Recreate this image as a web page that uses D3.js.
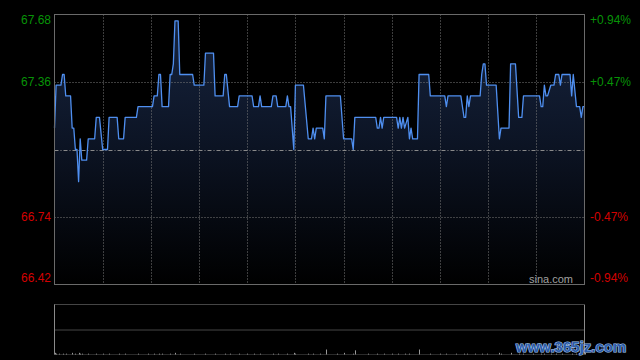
<!DOCTYPE html>
<html><head><meta charset="utf-8">
<script src="https://cdn.jsdelivr.net/npm/d3@7"></script>
<style>html,body{margin:0;padding:0;background:#000;overflow:hidden}svg{display:block}</style>
</head><body>
<svg id="c" width="640" height="360"></svg>
<script>
// ---- data ----
const prevClose = 67.05;
const priceMinutes = [0,1,4,5,6,7,10,11,12,13,14,15,16,17,20,21,25,26,28,30,33,34,39,40,43,44,51,52,61,62,64,65,66,67,71,72,73,74,75,77,78,86,87,93,94,99,100,105,106,107,109,114,115,123,124,127,128,129,135,136,138,139,144,145,146,147,149,150,155,158,160,161,162,163,167,168,169,178,180,185,186,187,200,201,202,203,204,205,213,214,215,216,217,218,220,221,222,223,226,227,233,234,243,244,245,253,255,256,257,258,259,265,266,267,268,269,275,277,278,283,284,287,289,291,292,302,303,304,305,306,307,309,311,312,314,315,316,321,322,323,325,327,328,329,330];
const prices = [67.15,67.35,67.35,67.40,67.40,67.30,67.30,67.15,67.15,67.05,67.05,66.90,67.10,67.00,67.00,67.10,67.10,67.20,67.20,67.05,67.05,67.20,67.20,67.10,67.10,67.20,67.20,67.25,67.25,67.30,67.30,67.40,67.40,67.25,67.25,67.40,67.40,67.45,67.65,67.65,67.40,67.40,67.35,67.35,67.50,67.50,67.30,67.30,67.40,67.40,67.25,67.25,67.30,67.30,67.25,67.25,67.30,67.25,67.25,67.30,67.30,67.25,67.25,67.30,67.25,67.25,67.05,67.35,67.35,67.10,67.10,67.15,67.10,67.15,67.15,67.10,67.30,67.30,67.10,67.10,67.05,67.20,67.20,67.15,67.15,67.20,67.15,67.20,67.20,67.15,67.20,67.15,67.20,67.15,67.20,67.10,67.15,67.10,67.10,67.40,67.40,67.30,67.30,67.25,67.30,67.30,67.20,67.20,67.30,67.25,67.30,67.30,67.40,67.45,67.45,67.35,67.35,67.10,67.15,67.15,67.45,67.45,67.20,67.20,67.30,67.30,67.25,67.25,67.35,67.30,67.30,67.35,67.35,67.40,67.40,67.35,67.40,67.40,67.30,67.40,67.25,67.25,67.20,67.25,67.25];
const yTickValues = [67.68, 67.365, 66.735, 66.42];
const yTickLabels = ["67.68", "67.36", "66.74", "66.42"];
const pctLabels = ["+0.94%", "+0.47%", "-0.47%", "-0.94%"];
const gridMinutes = [30, 60, 90, 120, 150, 180, 210, 240, 270, 300];
const volMinutes = [0,1,3,5,7,11,13,15,16,17,21,26,30,34,40,44,52,58,62,65,67,72,75,78,87,94,100,106,109,115,120,124,128,136,139,145,149,150,158,161,165,169,176,180,186,187,195,201,205,210,214,218,221,227,234,240,244,250,255,257,262,266,269,277,278,284,289,292,298,303,305,309,312,316,322,325,328,330];
const volumes = [2,1,1,1,1,2,1,2,1,1,1,1,1,1,1,1,1,1,1,1,1,1,2,1,1,1,1,1,1,1,1,1,1,1,1,1,2,1,1,1,1,6,1,2,1,5,1,1,1,1,1,1,1,6,1,1,1,1,1,1,1,1,1,2,1,2,1,1,1,1,1,1,1,1,1,1,1,2];

// ---- layout ----
const L = 54.5, R = 584.5, T = 14.5, B = 284.5;
const VT = 304.5, VB = 354.5;
const svg = d3.select("#c");
const x = d3.scaleLinear().domain([0, 330]).range([L, R]);
const y = d3.scaleLinear().domain([prevClose - 0.63, prevClose + 0.63]).range([B, T]);
const yv = d3.scaleLinear().domain([0, 60]).range([VB, VT]);

const defs = svg.append("defs");
const g = defs.append("linearGradient").attr("id", "fillg")
  .attr("gradientUnits", "userSpaceOnUse").attr("x1", 0).attr("x2", 0).attr("y1", T).attr("y2", B);
g.append("stop").attr("offset", "0").attr("stop-color", "#172540");
g.append("stop").attr("offset", "0.45").attr("stop-color", "#0d1526");
g.append("stop").attr("offset", "1").attr("stop-color", "#000000");

const pts = priceMinutes.map((m, i) => [m, prices[i]]);

// area
svg.append("path").datum(pts)
  .attr("d", d3.area().x(d => x(d[0])).y0(B).y1(d => y(d[1])))
  .attr("fill", "url(#fillg)");

// grid
const gridCol = "#7a7a7a";
svg.append("g").selectAll("line").data(gridMinutes).join("line")
  .attr("x1", d => Math.round(x(d)) + 0.5).attr("x2", d => Math.round(x(d)) + 0.5)
  .attr("y1", T).attr("y2", B)
  .attr("stroke", gridCol).attr("stroke-width", 1).attr("stroke-dasharray", "1,2");
svg.append("g").selectAll("line").data([yTickValues[1], yTickValues[2]]).join("line")
  .attr("x1", L).attr("x2", R)
  .attr("y1", d => Math.round(y(d)) + 0.5).attr("y2", d => Math.round(y(d)) + 0.5)
  .attr("stroke", gridCol).attr("stroke-width", 1).attr("stroke-dasharray", "1,2");
svg.append("line")
  .attr("x1", L).attr("x2", R)
  .attr("y1", Math.round(y(prevClose)) + 0.5).attr("y2", Math.round(y(prevClose)) + 0.5)
  .attr("stroke", "#8a8a8a").attr("stroke-width", 1).attr("stroke-dasharray", "4,2,1,2");

// line
svg.append("path").datum(pts)
  .attr("d", d3.line().x(d => x(d[0])).y(d => y(d[1])))
  .attr("fill", "none").attr("stroke", "#4f8ff0").attr("stroke-width", 1.3)
  .attr("stroke-linejoin", "round");

// border
svg.append("rect").attr("x", L).attr("y", T).attr("width", R - L).attr("height", B - T)
  .attr("fill", "none").attr("stroke", "#6a6a6a").attr("stroke-width", 1);

// labels
const font = "'Liberation Sans', Arial, sans-serif";
const colFor = i => i < 2 ? "#079307" : "#d40000";
const ly = v => Math.max(20, Math.min(278, y(v)));
svg.append("g").selectAll("text").data(yTickValues).join("text")
  .attr("x", 51).attr("y", d => ly(d)).attr("dy", "0.36em")
  .attr("text-anchor", "end").attr("font-family", font).attr("font-size", 12)
  .attr("fill", (d, i) => colFor(i)).text((d, i) => yTickLabels[i]);
svg.append("g").selectAll("text").data(yTickValues).join("text")
  .attr("x", 590).attr("y", d => ly(d)).attr("dy", "0.36em")
  .attr("text-anchor", "start").attr("font-family", font).attr("font-size", 12)
  .attr("fill", (d, i) => colFor(i)).text((d, i) => pctLabels[i]);

svg.append("text").attr("x", 573).attr("y", 283).attr("text-anchor", "end")
  .attr("font-family", font).attr("font-size", 11).attr("fill", "#a0a0a0").text("sina.com");

// volume panel
svg.append("line").attr("x1", L).attr("x2", R).attr("y1", VT).attr("y2", VT)
  .attr("stroke", "#8a8a8a").attr("stroke-dasharray", "1,1");
svg.append("line").attr("x1", L).attr("x2", R).attr("y1", (VT + VB) / 2 + 0.5).attr("y2", (VT + VB) / 2 + 0.5)
  .attr("stroke", "#8a8a8a").attr("stroke-dasharray", "1,1");
svg.append("line").attr("x1", L).attr("x2", R).attr("y1", VB).attr("y2", VB)
  .attr("stroke", "#555").attr("stroke-dasharray", "1,1");
svg.append("line").attr("x1", L).attr("x2", L).attr("y1", VT).attr("y2", VB).attr("stroke", "#8a8a8a");
svg.append("line").attr("x1", R).attr("x2", R).attr("y1", VT).attr("y2", VB).attr("stroke", "#8a8a8a");
svg.append("g").selectAll("line").data(volMinutes).join("line")
  .attr("x1", d => Math.round(x(d)) + 0.5).attr("x2", d => Math.round(x(d)) + 0.5)
  .attr("y1", VB).attr("y2", (d, i) => yv(volumes[i]))
  .attr("stroke", "#9a9a9a").attr("stroke-width", 1);

// watermark
svg.append("text").attr("x", 516).attr("y", 352)
  .attr("font-family", "'Liberation Sans', Arial, sans-serif").attr("font-weight", "bold").attr("font-size", 15)
  .attr("fill", "#2c5ca8").attr("stroke", "#a8c8f0").attr("stroke-width", 1.2)
  .attr("paint-order", "stroke").text("www.365jz.com");
</script>
</body></html>
